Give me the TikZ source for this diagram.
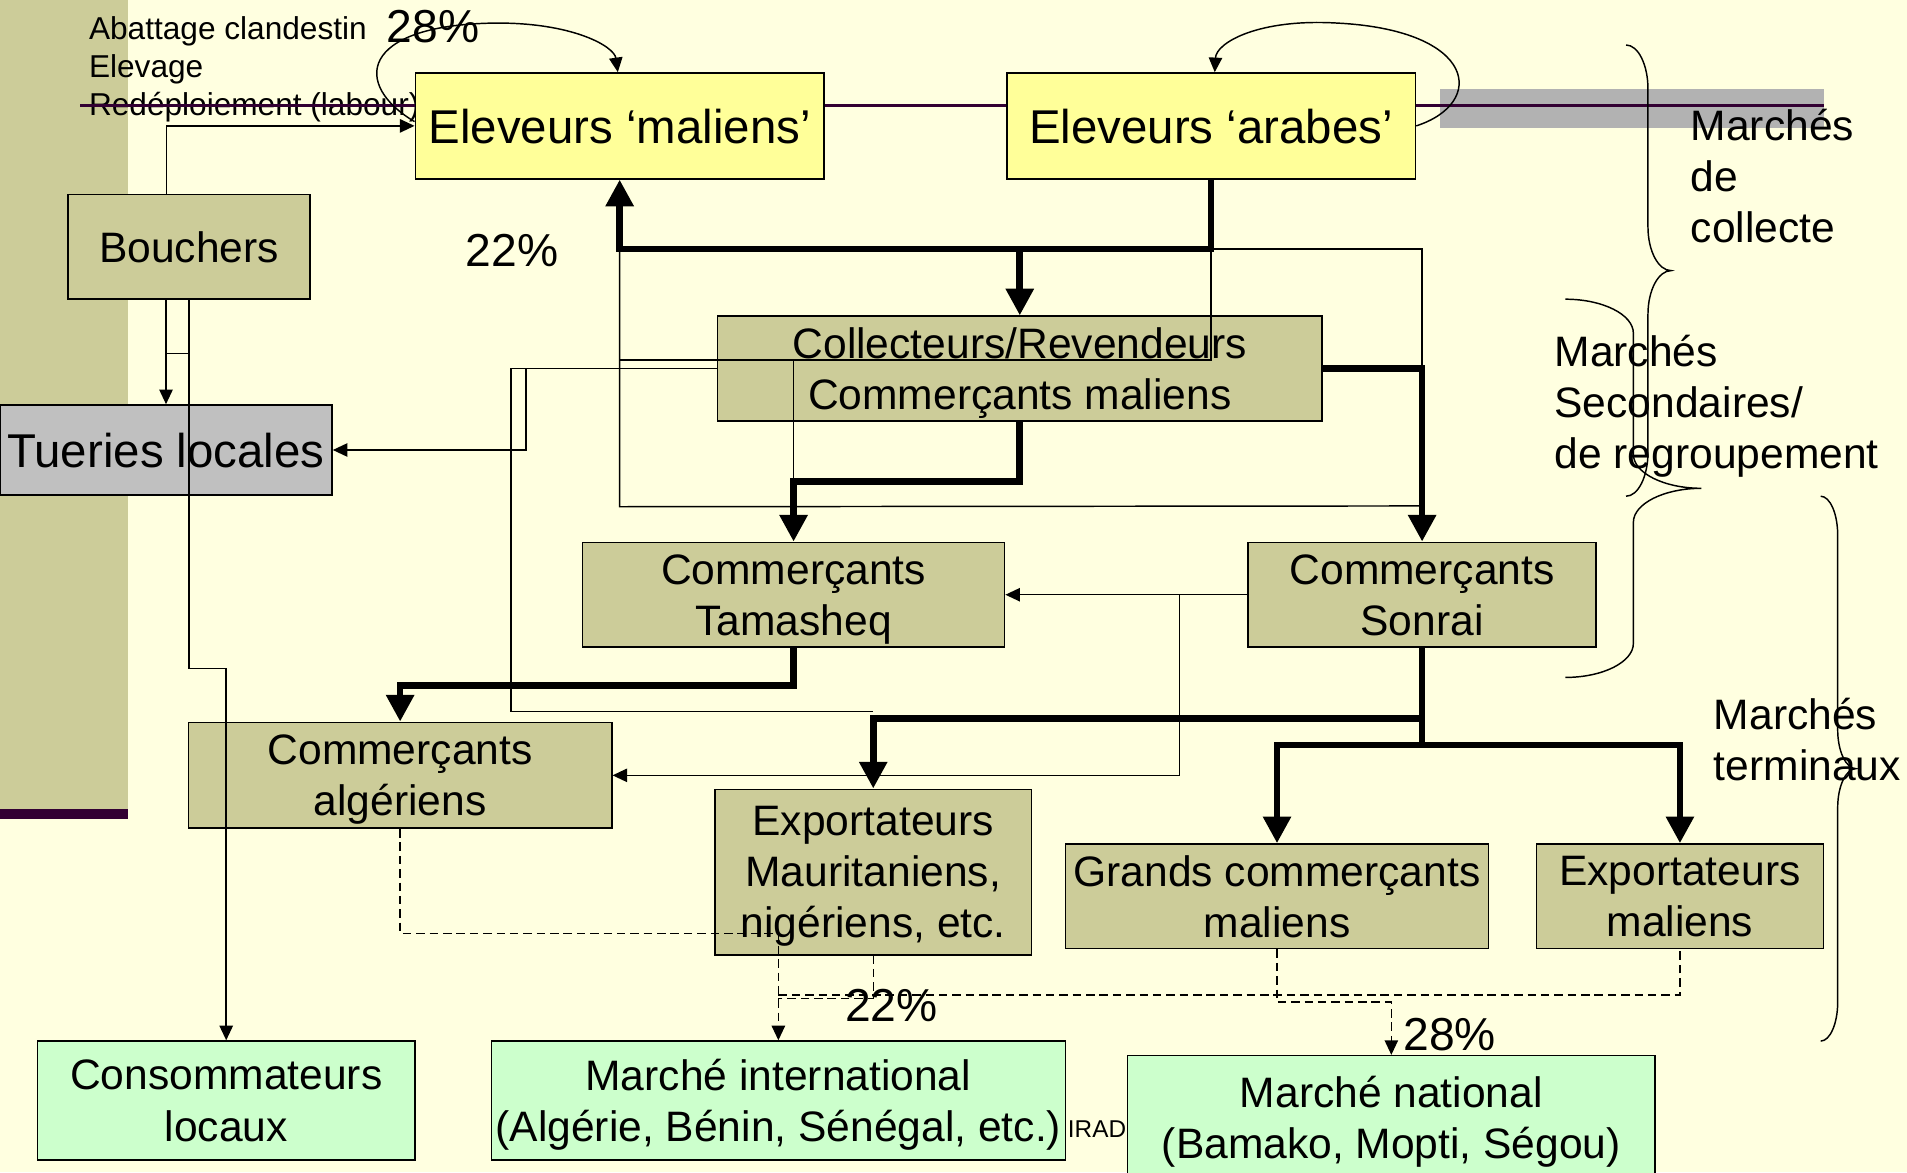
\documentclass[tikz,border=0pt]{standalone}
\usepackage{fontspec}
\setmainfont{Liberation Sans}
\usetikzlibrary{arrows.meta,positioning,calc}

\definecolor{slidebg}{RGB}{255,255,224}
\definecolor{traderolive}{RGB}{204,204,153}
\definecolor{herderyellow}{RGB}{255,255,153}
\definecolor{outletgreen}{RGB}{204,255,204}
\definecolor{localgray}{RGB}{192,192,192}
\definecolor{bandgray}{RGB}{178,178,178}
\definecolor{plum}{RGB}{51,0,51}

\tikzset{
  box/.style={draw=black, line width=1.3pt, inner sep=0pt, align=center,
    font=\fontsize{35}{42}\selectfont, text depth=-6pt},
  herder/.style={box, fill=herderyellow, minimum width=336pt, minimum height=87pt,
    font=\fontsize{39}{47}\selectfont, text depth=-1pt},
  trader/.style={box, fill=traderolive},
  outlet/.style={box, fill=outletgreen},
  note/.style={inner sep=0pt, align=left, font=\fontsize{35}{42}\selectfont},
  pct/.style={inner sep=0pt, font=\fontsize{38}{45}\selectfont},
  flow/.style={line width=1.2pt},
  flow tip/.style={flow, -{Triangle[length=12pt,width=11pt]}},
  main flow/.style={line width=5.5pt, -{Triangle[length=22pt,width=22pt]}},
  sale/.style={flow, dash pattern=on 7pt off 4pt},
  sale tip/.style={sale, -{Triangle[length=12pt,width=11pt]}},
  brace line/.style={line width=1.2pt},
}

% #1 ends, #2 spine, #3 tip, #4 top, #5 bottom, #6 curl
\newcommand{\marketbrace}[6]{%
  \pgfmathsetmacro{\bracemid}{(#4+#5)/2}
  \draw[brace line] (#1,#4) .. controls ({#1+0.55*(#2-#1)},#4) and (#2,{#4+0.45*#6}) .. (#2,{#4+#6})
    -- (#2,{\bracemid-#6}) .. controls (#2,{\bracemid-0.45*#6}) and ({#2+0.45*(#3-#2)},\bracemid) .. (#3,\bracemid)
    .. controls ({#2+0.45*(#3-#2)},\bracemid) and (#2,{\bracemid+0.45*#6}) .. (#2,{\bracemid+#6})
    -- (#2,{#5-#6}) .. controls (#2,{#5-0.45*#6}) and ({#1+0.55*(#2-#1)},#5) .. (#1,#5);
}

\begin{document}
\begin{tikzpicture}[x=1pt, y=-1pt]
          \useasboundingbox (0,0) rectangle (1568,964);
          \clip (0,0) rectangle (1568,964);

          % slide
          \fill[slidebg] (0,0) rectangle (1568,964);
          \fill[traderolive] (0,0) rectangle (105,665);
          \fill[plum] (0,665) rectangle (105,673);
          \fill[bandgray] (1184,73) rectangle (1500,105);
          \node[inner sep=0pt, anchor=west, align=left, font=\fontsize{26}{31.5}\selectfont] (uses) at (73,57) {Abattage clandestin\\Elevage\\Redéploiement (labour)};
          \draw[plum, line width=2.7pt] (66,87) -- (1500,87);

          % nodes

          %herders
          \node[herder] (eleveurs_maliens) at (509.5,103.5) {Eleveurs ‘maliens’};
          \node[herder, right=149pt of eleveurs_maliens] (eleveurs_arabes) {Eleveurs ‘arabes’};

          %local
          \node[trader, minimum width=199pt, minimum height=86pt, text depth=-2pt] (bouchers) at (155.5,203) {Bouchers};
          \node[box, fill=localgray, minimum width=273pt, minimum height=74pt, font=\fontsize{39}{47}\selectfont, text depth=-2pt] (tueries) at (136.5,370) {Tueries locales};

          %traders
          \node[trader, minimum width=497pt, minimum height=86pt] (collecteurs) at (838.5,303) {Collecteurs/Revendeurs\\Commerçants maliens};
          \node[trader, minimum width=347pt, minimum height=86pt] (tamasheq) at (652.5,489) {Commerçants\\Tamasheq};
          \node[trader, minimum width=286pt, minimum height=86pt, right=199pt of tamasheq] (sonrai) {Commerçants\\Sonrai};
          \node[trader, minimum width=348pt, minimum height=87pt] (algeriens) at (329,637.5) {Commerçants\\algériens};
          \node[trader, minimum width=260pt, minimum height=136pt] (export_maur) at (718,717) {Exportateurs\\Mauritaniens,\\nigériens, etc.};
          \node[trader, minimum width=348pt, minimum height=86pt] (grands) at (1050,737) {Grands commerçants\\maliens};
          \node[trader, minimum width=236pt, minimum height=86pt, right=38pt of grands] (export_maliens) {Exportateurs\\maliens};

          %outlets
          \node[outlet, minimum width=310pt, minimum height=98pt] (consommateurs) at (186,905) {Consommateurs\\locaux};
          \node[outlet, minimum width=472pt, minimum height=98pt] (marche_intl) at (640,905) {Marché international\\(Algérie, Bénin, Sénégal, etc.)};
          \node[outlet, minimum width=434pt, minimum height=102pt] (marche_national) at (1144,919) {Marché national\\(Bamako, Mopti, Ségou)};

          % labels
          \node[pct] (pct_loop) at (356,22) {28\%};
          \node[pct] (pct_return) at (421,206) {22\%};
          \node[pct] (pct_export) at (733,827) {22\%};
          \node[pct] (pct_national) at (1192,851) {28\%};
          \node[inner sep=0pt, font=\fontsize{20}{24}\selectfont] (irad) at (902,928) {IRAD};
          \node[note, anchor=west] (collecte) at (1390,145) {Marchés\\de\\collecte};
          \node[note, anchor=west] (regroupement) at (1278,334) {Marchés\\Secondaires/\\de regroupement};
          \node[note, anchor=west] (terminaux) at (1409,608) {Marchés\\terminaux};

          % braces
          \marketbrace{1337}{1355}{1374}{37}{408}{36}
          \marketbrace{1287}{1343}{1399}{246}{557}{28}
          \marketbrace{1497}{1511}{1526}{408}{856}{32}

          % edges
          \coordinate (split_top) at ($(eleveurs_arabes.south)+(0,57)$);
          \coordinate (split_mid) at ($(collecteurs.south)+(0,49)$);
          \coordinate (split_low) at ($(sonrai.south)+(0,58)$);
          \coordinate (split_end) at ($(sonrai.south)+(0,80)$);
          \coordinate (row_cross) at (0,296);
          \coordinate (detour) at (420,585);

          %thin
          \draw[flow tip] ([xshift=-18.5pt]bouchers.north) |- (eleveurs_maliens.west);
          \draw[flow tip] (bouchers.south -| tueries.north) -- (tueries.north);
          \draw[flow tip] (bouchers.south) -- ++(0,303) -| (consommateurs.north);
          \draw[flow] ($(bouchers.south)+(-19,44)$) -- ++(19,0);
          \draw[flow tip] (collecteurs.west) -| ($(tueries.east)+(159,0)$) -- (tueries.east);
          \draw[flow] (collecteurs.west) -| (detour) -- (detour -| export_maur.north);
          \draw[flow] (split_top -| eleveurs_maliens.south) -- ++(0,212) -- (sonrai.north |- 0,416);
          \draw[flow] (eleveurs_maliens.south |- row_cross) -| (split_top);
          \draw[flow] (tamasheq.north |- row_cross) -- (tamasheq.north |- split_mid);
          \draw[flow] (split_top) -| (collecteurs.east -| sonrai.north);
          \draw[flow tip] (sonrai.west) -- (tamasheq.east);
          \draw[flow tip] ($(sonrai.west)+(-56,0)$) |- (algeriens.east);

          %loops
          \draw[flow tip] ([yshift=3.5pt]eleveurs_maliens.west) .. controls (290,70) and (295,21) .. (405,19) .. controls (470,18) and (505,38) .. ([xshift=-1.5pt]eleveurs_maliens.north);
          \draw[flow tip] (eleveurs_arabes.east) .. controls (1222,85) and (1215,25) .. (1100,19) .. controls (1035,15) and (1000,35) .. ([xshift=3pt]eleveurs_arabes.north);

          %thick
          \draw[main flow] (eleveurs_arabes.south) -- (split_top) -| (eleveurs_maliens.south);
          \draw[main flow] (split_top -| collecteurs.north) -- (collecteurs.north);
          \draw[main flow] (collecteurs.south) -- (split_mid) -| (tamasheq.north);
          \draw[main flow] (collecteurs.east) -| (sonrai.north);
          \draw[main flow] (tamasheq.south) -- ++(0,31) -| (algeriens.north);
          \draw[main flow] (sonrai.south) -- (split_low) -| (export_maur.north);
          \draw[main flow] (sonrai.south) -- (split_end) -| (grands.north);
          \draw[main flow] (split_end) -| (export_maliens.north);

          %dashed
          \draw[sale tip] (algeriens.south) |- ($(marche_intl.north)+(0,-88)$) -- (marche_intl.north);
          \draw[sale] (export_maur.south) -- (export_maur.south |- 0,821) -- (marche_intl.north |- 0,821);
          \draw[sale] (marche_intl.north |- 0,818) -| (export_maliens.south);
          \draw[sale tip] (grands.south) -- (grands.south |- 0,824) -| (marche_national.north);

\end{tikzpicture}
\end{document}
